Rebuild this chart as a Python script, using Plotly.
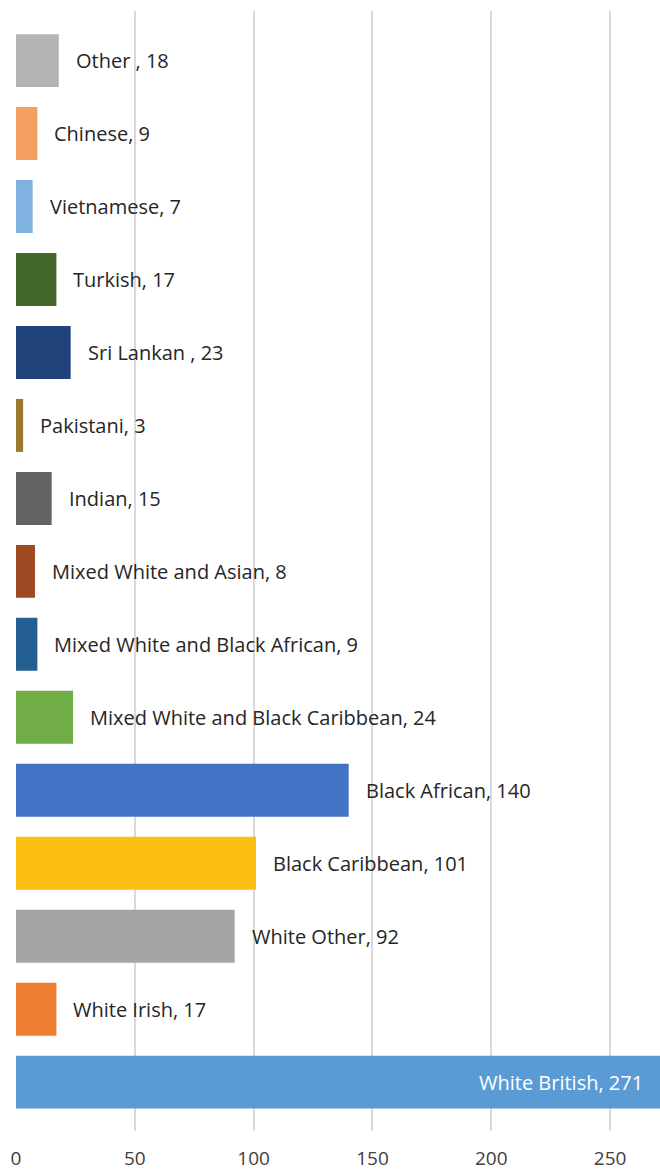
import plotly.graph_objects as go

categories = ["White British", "White Irish", "White Other", "Black Caribbean", "Black African",
              "Mixed White and Black Caribbean", "Mixed White and Black African", "Mixed White and Asian",
              "Indian", "Pakistani", "Sri Lankan ", "Turkish", "Vietnamese", "Chinese", "Other "]
values = [271, 17, 92, 101, 140, 24, 9, 8, 15, 3, 23, 17, 7, 9, 18]
colors = ["#5b9bd5", "#ed7d31", "#a5a5a5", "#fbbf14", "#4472c4",
          "#70ad47", "#255e91", "#9e4a23", "#636363", "#9c7a2b",
          "#21427a", "#43682b", "#7fb2e0", "#f4a060", "#b4b4b4"]
tick_vals = [0, 50, 100, 150, 200, 250]

FONT = "Open Sans"
TXT = "#262626"

fig = go.Figure()
fig.add_trace(go.Bar(
    x=values, y=list(range(len(categories))), orientation="h",
    marker=dict(color=colors, line=dict(width=0)),
    hoverinfo="skip", showlegend=False,
))

x_max = 271
for i, (c, v) in enumerate(zip(categories, values)):
    label = f"{c}, {v}"
    if v >= x_max:
        fig.add_annotation(x=v, y=i, xref="x", yref="y", text=label, showarrow=False,
                           xanchor="right", xshift=-15, font=dict(family=FONT, size=20, color="white"))
    else:
        fig.add_annotation(x=v, y=i, xref="x", yref="y", text=label, showarrow=False,
                           xanchor="left", xshift=15, font=dict(family=FONT, size=20, color=TXT))

fig.update_layout(
    width=660, height=1172,
    margin=dict(l=16, r=0, t=11, b=41),
    plot_bgcolor="white", paper_bgcolor="white",
    bargap=0.274,
    xaxis=dict(range=[0, x_max], tickvals=tick_vals, showgrid=True, gridcolor="#d9d9d9", gridwidth=1.5,
               zeroline=False, showline=False, ticks="",
               tickfont=dict(family=FONT, size=19, color="#404040"), ticklabelstandoff=14),
    yaxis=dict(range=[-0.67, 14.68], showticklabels=False, showgrid=False, zeroline=False,
               showline=False, ticks=""),
)

fig.write_html("out.html",
               config={"displayModeBar": False},
               post_script="document.body.style.margin='0';"
                           "document.documentElement.style.overflow='hidden';")
